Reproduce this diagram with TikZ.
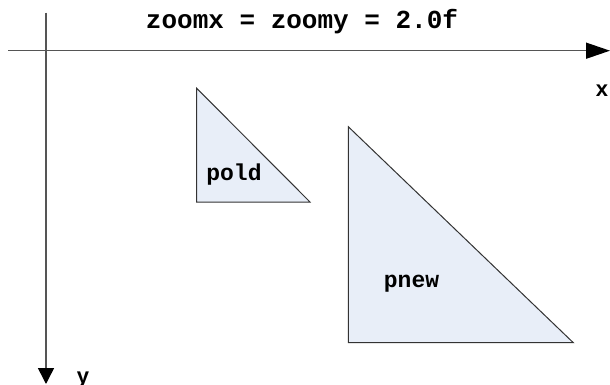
\documentclass[tikz,border=0pt]{standalone}
\usepackage{fontspec}
\setmonofont{Liberation Mono}
\setsansfont{Liberation Sans}
\usetikzlibrary{arrows.meta}
\definecolor{trifill}{HTML}{E8EEF8}
\definecolor{axisgray}{HTML}{555555}
\begin{document}
\begin{tikzpicture}[
        x=0.5pt, y=-0.5pt,
        axis/.style={draw=axisgray, line width=0.75pt},
        tri/.style={draw=black!80, fill=trifill, line width=0.5pt, line join=miter},
        code/.style={font=\ttfamily\bfseries\fontsize{11.5}{13}\selectfont, anchor=base, inner sep=0pt},
        title/.style={code, font=\ttfamily\bfseries\fontsize{13}{15}\selectfont},
        axislabel/.style={font=\sffamily\bfseries\fontsize{11}{13}\selectfont, anchor=base, inner sep=0pt},
    ]
    \useasboundingbox (0,0) rectangle (610,385);
    % axes
    \coordinate (xstart) at (8,50.7);
    \coordinate (xend) at (610,50.7);
    \coordinate (ystart) at (46,12.7);
    \coordinate (yend) at (46,384);
    \draw[axis, -{Triangle[length=12pt, width=8pt, color=black]}] (xstart) -- (xend);
    \draw[axis, -{Triangle[length=8pt, width=8pt, color=black]}] (ystart) -- (yend);
    \node[axislabel](xlabel) at (602,97) {x};
    \node[axislabel](ylabel) at (83,383) {y};
    % triangles
    \draw[tri] (196.7,88.3) -- (196.7,202) -- (310,202) -- cycle;
    \draw[tri] (348.3,126.7) -- (348.3,342.7) -- (573.3,342.7) -- cycle;
    % labels
    \node[title](zoom) at (302,28.3) {zoomx = zoomy = 2.0f};
    \node[code](pold) at (234,180) {pold};
    \node[code](pnew) at (411.5,287) {pnew};
\end{tikzpicture}
\end{document}
